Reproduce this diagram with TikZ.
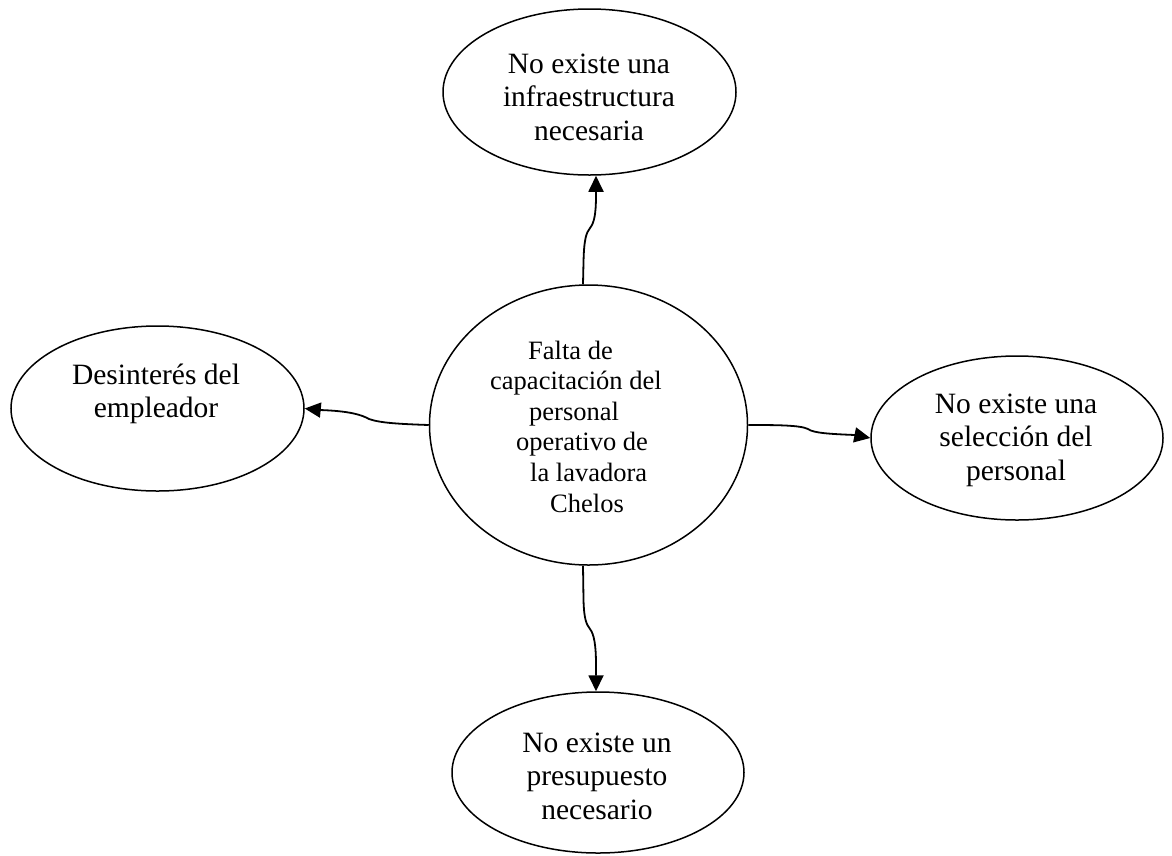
\documentclass[tikz,border=0pt]{standalone}
\usepackage{fontspec}
\setmainfont{Liberation Serif}
\usetikzlibrary{arrows.meta,shapes.geometric}
\begin{document}
\begin{tikzpicture}[x=1pt,y=-1pt,
  bubble/.style={draw, ellipse, line width=1.5pt, inner sep=0pt, minimum width=293pt, minimum height=165pt},
  lbl/.style={font=\fontsize{29.5}{33.5}\selectfont, align=center, inner sep=0pt},
  ctext/.style={font=\fontsize{26.5}{30.6}\selectfont, align=left, inner sep=0pt},
  conn/.style={line width=1.8pt, -{Triangle[length=16pt,width=15pt]}}]
\useasboundingbox (0,0) rectangle (1172,855);
% ellipses
\node[bubble, minimum width=318pt, minimum height=280pt] (c) at (588.5,425) {};
\node[bubble, minimum height=166pt] (t) at (589.5,92) {};
\node[bubble] (l) at (157.5,408.5) {};
\node[bubble, minimum width=292pt, minimum height=164pt] (r) at (1017,438) {};
\node[bubble, minimum width=292pt, minimum height=161pt] (b) at (598,772.5) {};
% texts
\node[ctext, anchor=west] (ct) at (490,426.5) {\hspace*{38pt}Falta de\\capacitación del\\\hspace*{39pt}personal\\\hspace*{26pt}operativo de\\\hspace*{40pt}la lavadora\\\hspace*{60pt}Chelos};
\node[lbl] (tt) at (589,97) {No existe una\\infraestructura\\necesaria};
\node[lbl] (lt) at (156,394) {Desinterés del\\empleador};
\node[lbl] (rt) at (1016,440) {No existe una\\selección del\\personal};
\node[lbl] (bt) at (597,776) {No existe un\\presupuesto\\necesario};
% connectors
\coordinate (sx) at (583,0);
\coordinate (ex) at (596,0);
\draw[conn] (c.north -| sx) -- (583.5,262) .. controls (584,240) and (586,233) .. (590,228) .. controls (594,223) and (596,215) .. (596,195) -- (t.south -| ex);
\draw[conn] (c.west) .. controls (400,424) and (380,423) .. (369,419) .. controls (362,415) and (350,411) .. (320,410) -- (l.east);
\draw[conn] (c.east) .. controls (775,425) and (800,425) .. (808,429) .. controls (813,433) and (830,434) .. (855,435) -- (r.west);
\draw[conn] (c.south -| sx) -- (583.5,600) .. controls (584,618) and (586,624) .. (590,629) .. controls (594,634) and (596,645) .. (596,665) -- (b.north -| ex);
\end{tikzpicture}
\end{document}
